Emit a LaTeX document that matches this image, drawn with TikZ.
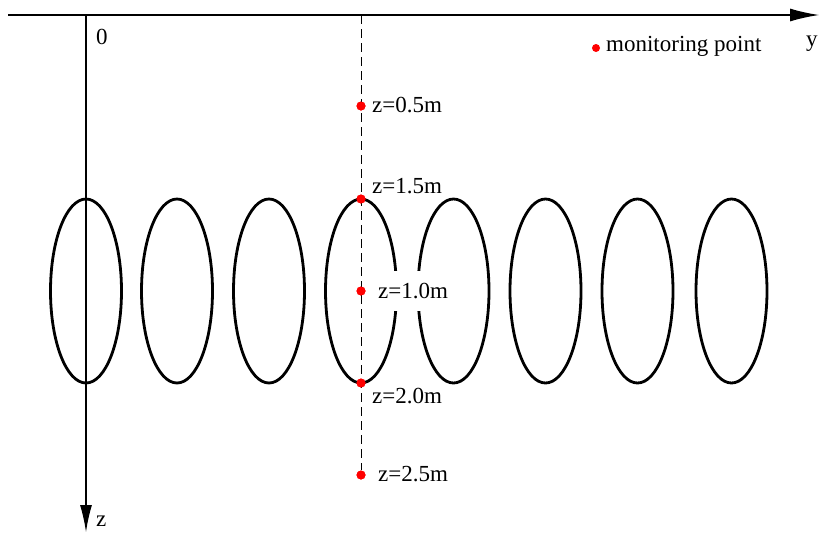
\documentclass[tikz,border=0pt]{standalone}
\usepackage{fontspec}
\setmainfont{Liberation Serif}
\usetikzlibrary{arrows.meta}
\begin{document}
\begin{tikzpicture}[x=1pt,y=-1pt,
  axis/.style={line width=1.3pt},
  pile/.style={line width=2.8pt},
  probe/.style={circle,fill=red,inner sep=0pt,minimum size=9pt},
  lab/.style={font=\fontsize{23}{25}\selectfont,anchor=west,inner sep=0pt},
  guide/.style={line width=0.9pt,dash pattern=on 9pt off 5pt}]
\useasboundingbox (0,0) rectangle (819,533);
% axes
\coordinate (o) at (86,15);
\coordinate (ystart) at (8,15);
\coordinate (yend) at (819,15);
\coordinate (zend) at (86,532);
\draw[axis,-{Latex[length=29pt,width=13pt]}] (ystart) -- (yend);
\draw[axis,-{Latex[length=27pt,width=12pt]}] (o) -- (zend);
\node[lab] (lo) at (96,37) {0};
\node[lab] (ly) at (806,44) {y};
\node[lab] (lz) at (96,521) {z};
% piles
\foreach \cx [count=\i] in {86,177,269,361,453.5,545.5,637.5,731.5}
  \draw[pile] (\cx,291) ellipse [x radius=35.5, y radius=92];
% guide line
\coordinate (gtop) at (361,15);
\node[probe] (p5) at (361,106) {};
\node[probe] (p15) at (361,199) {};
\node[probe] (p10) at (361,291) {};
\node[probe] (p20) at (361,383) {};
\node[probe] (p25) at (361,475) {};
\draw[guide] (gtop) -- (p25);
\node[probe] at (361,106) {};
\node[probe] at (361,199) {};
\node[probe] at (361,291) {};
\node[probe] at (361,383) {};
\node[probe] at (361,475) {};
% labels
\node[lab] (l5) at (372,105) {z=0.5m};
\node[lab] (l15) at (372,186) {z=1.5m};
\node[lab,fill=white,inner xsep=5pt,minimum height=40pt] (l10) at (373,291) {z=1.0m};
\node[lab] (l20) at (372,396) {z=2.0m};
\node[lab] (l25) at (378,474) {z=2.5m};
% legend
\node[probe,minimum size=8pt] (leg) at (596,48) {};
\node[lab] (legt) at (606,46) {monitoring point};
\end{tikzpicture}
\end{document}
